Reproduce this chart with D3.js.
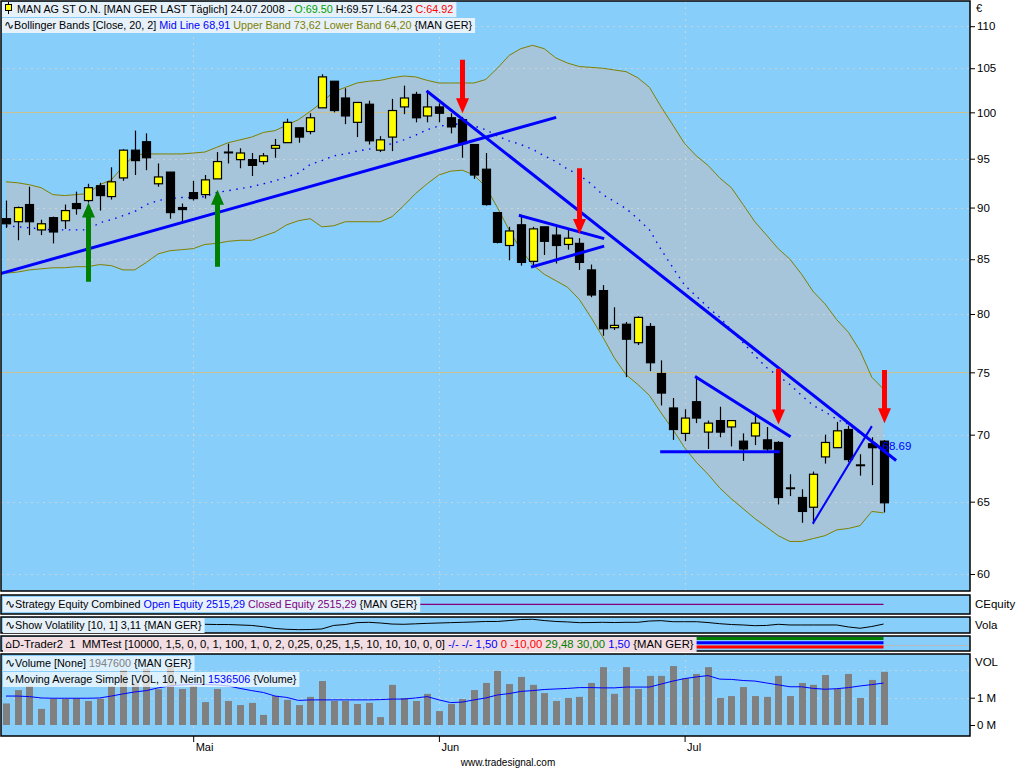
<!DOCTYPE html>
<html>
<head>
<meta charset="utf-8">
<script src="https://cdn.jsdelivr.net/npm/d3@7"></script>
<style>
  body { margin: 0; background: #ffffff; }
  svg { display: block; font-family: "Liberation Sans", Arial, sans-serif; }
</style>
</head>
<body>
<svg id="chart" width="1024" height="768"></svg>
<script>
// ---- MAN AG daily session data (Xetra), 09.04.2008 - 24.07.2008 ----
const sessions = [
  "2008-04-09","2008-04-10","2008-04-11","2008-04-14","2008-04-15","2008-04-16","2008-04-17","2008-04-18",
  "2008-04-21","2008-04-22","2008-04-23","2008-04-24","2008-04-25","2008-04-28","2008-04-29","2008-04-30",
  "2008-05-02","2008-05-05","2008-05-06","2008-05-07","2008-05-08","2008-05-09","2008-05-12","2008-05-13",
  "2008-05-14","2008-05-15","2008-05-16","2008-05-19","2008-05-20","2008-05-21","2008-05-22","2008-05-23",
  "2008-05-26","2008-05-27","2008-05-28","2008-05-29","2008-05-30",
  "2008-06-02","2008-06-03","2008-06-04","2008-06-05","2008-06-06","2008-06-09","2008-06-10","2008-06-11",
  "2008-06-12","2008-06-13","2008-06-16","2008-06-17","2008-06-18","2008-06-19","2008-06-20","2008-06-23",
  "2008-06-24","2008-06-25","2008-06-26","2008-06-27","2008-06-30",
  "2008-07-01","2008-07-02","2008-07-03","2008-07-04","2008-07-07","2008-07-08","2008-07-09","2008-07-10",
  "2008-07-11","2008-07-14","2008-07-15","2008-07-16","2008-07-17","2008-07-18","2008-07-21","2008-07-22",
  "2008-07-23","2008-07-24"
];

const openPx = [88.9,88.6,90.3,87.8,89.0,88.7,90.4,90.7,92.2,91.1,93.0,95.9,96.8,92.4,93.6,90.0,
  91.5,91.3,92.9,95.7,94.9,94.9,94.7,96.1,96.7,98.3,97.9,100.5,103.5,101.6,98.9,100.9,95.9,97.3,100.6,102.0,99.6,
  100.6,99.4,99.2,96.5,93.9,89.5,86.3,88.3,84.8,88.1,87.3,86.4,86.5,84.0,82.1,78.8,79.1,77.5,78.9,74.9,72.1,
  70.1,72.6,70.2,71.1,70.6,69.5,69.9,69.6,69.4,66.0,65.3,64.6,68.3,69.0,70.4,67.7,69.3,69.50];
const highPx = [90.7,90.1,92.1,88.8,89.1,90.3,91.6,92.4,92.5,94.1,96.0,98.0,97.7,94.5,93.6,90.4,
  92.7,93.3,95.7,96.6,96.1,95.6,95.6,97.1,99.3,98.3,99.9,104.3,103.5,102.7,101.1,101.3,97.4,101.5,103.0,102.3,102.4,
  101.0,99.9,99.5,96.5,95.6,89.5,88.1,89.3,88.1,88.1,88.1,87.9,87.0,84.5,82.6,80.6,79.3,79.8,79.2,76.0,72.9,
  72.0,74.6,71.1,72.2,71.1,70.1,71.7,70.6,69.5,67.0,65.9,67.2,70.0,71.0,70.7,68.5,69.8,69.57];
const lowPx = [88.0,86.8,87.3,87.3,86.5,87.9,89.3,90.5,89.7,90.8,92.7,93.3,93.8,92.1,88.9,88.5,
  90.7,90.9,92.9,94.5,94.0,93.2,94.4,95.1,96.7,96.7,97.6,100.5,100.0,98.7,97.3,96.5,95.7,95.8,99.8,98.9,98.9,
  98.9,97.7,95.1,92.9,90.2,86.5,84.9,84.4,84.4,85.4,84.6,85.9,84.0,81.5,78.1,78.6,74.6,77.3,75.1,72.3,69.6,
  69.5,70.9,68.9,69.8,69.1,68.0,69.2,68.7,64.8,65.4,63.5,63.4,67.8,69.0,67.9,66.9,66.2,64.23];
const closePx = [88.4,90.0,88.6,88.4,87.6,89.7,89.9,92.0,91.2,92.6,95.9,94.8,95.1,93.1,89.5,89.8,
  90.9,92.8,94.7,95.7,95.6,94.3,95.3,96.4,98.9,97.3,99.4,104.0,100.2,99.6,101.1,96.9,97.0,100.2,101.6,99.4,100.6,
  99.9,98.4,96.6,93.3,90.3,86.6,87.7,84.7,87.9,86.7,86.3,87.0,84.7,81.7,78.7,79.0,77.8,79.7,75.8,73.3,70.4,
  71.3,71.3,70.9,70.2,71.1,68.9,70.9,68.9,65.3,66.0,64.3,67.0,69.4,70.3,68.1,67.7,69.0,64.92];

// Bollinger Bands [Close, 20, 2]
const bbUpper = [92.6,92.5,92.3,92.0,91.3,91.2,91.3,91.4,92.3,92.8,94.2,95.4,95.5,95.5,95.5,95.5,
  95.6,95.7,96.2,96.7,97.0,97.3,97.8,98.0,98.6,99.2,100.1,101.1,102.3,102.8,103.3,103.5,103.6,103.9,104.1,104.0,103.6,
  103.3,103.3,103.3,103.3,103.7,105.0,106.5,107.3,107.7,107.3,106.2,105.6,105.2,105.1,105.0,104.8,104.6,103.9,102.8,100.6,98.6,
  96.6,95.3,94.3,93.0,92.0,90.3,88.6,87.3,86.0,85.0,83.6,82.0,80.9,79.5,78.4,76.8,74.6,73.62];
const bbMid = [88.2,88.1,88.0,87.9,87.8,87.8,87.8,87.8,88.5,88.8,89.2,89.6,90.3,90.7,90.9,91.0,
  91.0,91.1,91.5,91.7,91.9,92.1,92.4,92.7,93.1,93.5,94.4,94.8,95.3,95.5,95.8,96.0,96.3,96.6,97.0,97.5,98.1,
  98.5,98.6,98.8,98.5,98.1,97.4,96.9,96.5,96.0,95.3,94.7,93.9,93.3,92.4,91.3,90.6,89.9,88.9,87.8,85.9,84.2,
  82.6,81.6,80.6,79.7,78.6,77.5,76.4,75.4,74.7,74.0,73.1,72.3,71.8,71.2,70.8,70.1,69.5,68.91];
const bbLower = [83.7,83.8,84.0,84.1,84.2,84.2,84.3,84.3,84.5,84.4,84.0,84.0,84.7,85.5,85.8,85.9,
  86.0,86.4,86.5,86.7,86.8,86.8,87.2,87.6,88.3,88.7,88.9,88.1,88.2,88.6,88.6,88.6,88.6,89.1,90.2,91.4,92.4,
  93.3,93.7,93.8,93.3,92.1,90.0,87.8,85.9,84.5,83.6,83.0,82.4,81.3,79.7,78.0,76.2,74.8,74.0,73.1,71.7,70.4,
  69.0,67.9,67.0,66.0,65.2,64.5,63.8,63.2,62.6,62.2,62.2,62.4,62.6,63.0,63.1,63.3,64.3,64.20];

// Volume in millions of shares and its 10-day simple moving average
const volumeM = [0.79,1.28,1.43,0.59,0.96,0.96,0.98,0.88,0.96,1.43,2.00,1.55,2.07,1.31,2.16,1.32,
  1.43,0.84,1.32,0.88,0.73,0.81,0.37,1.06,0.92,0.73,1.03,1.61,0.88,0.88,0.77,0.81,0.29,1.47,0.99,0.88,1.14,
  0.51,0.77,0.95,1.28,1.54,1.98,1.50,1.76,1.47,1.17,0.88,0.99,1.03,1.54,2.12,1.14,2.12,1.32,1.80,1.80,2.16,
  1.72,1.87,2.12,0.99,1.06,1.39,1.06,1.03,1.80,1.06,1.54,1.47,1.83,1.32,1.87,0.99,1.65,1.9476];
const volumeMA10 = [1.06,1.06,1.04,0.99,0.98,0.98,0.98,0.98,0.99,1.06,1.14,1.21,1.26,1.36,1.43,1.47,
  1.49,1.49,1.47,1.43,1.34,1.26,1.19,1.06,1.01,0.90,0.92,0.92,0.92,0.92,0.92,0.92,0.93,0.95,0.95,0.99,1.04,
  0.92,0.82,0.84,0.92,0.99,1.10,1.15,1.23,1.26,1.30,1.32,1.34,1.37,1.37,1.36,1.36,1.39,1.39,1.39,1.50,1.61,
  1.70,1.76,1.81,1.68,1.67,1.63,1.61,1.54,1.47,1.40,1.40,1.34,1.31,1.33,1.37,1.43,1.48,1.5365];

// Show Volatility [10, 1], starting with the session of 05.05.2008
const volaFirst = 17;
const volatility = [3.09,3.07,3.07,3.03,2.99,2.88,2.73,2.66,2.63,2.64,2.69,2.99,3.07,3.23,3.26,3.20,3.11,3.09,3.13,3.17,
  3.20,3.23,3.26,3.29,3.33,3.33,3.41,3.50,3.52,3.41,3.33,3.29,3.23,3.24,3.26,3.24,3.26,3.26,3.37,3.40,3.31,
  3.31,3.31,3.24,3.14,3.07,3.03,2.97,2.99,3.09,3.03,3.03,3.03,3.03,3.03,2.86,2.75,2.90,3.11];

const closedEquity = 2515.29;
const dtraderLevels = [30.00, 1.50, -10.00];
const dtraderColors = ["#008000", "#0000ff", "#ff0000"];

const priceTicks = [60,65,70,75,80,85,90,95,100,105,110];
const priceLevelLines = [100, 75];
const volumeTicks = [0, 1];
const monthNames = ["Jan","Feb","Mär","Apr","Mai","Jun","Jul","Aug","Sep","Okt","Nov","Dez"];

// Drawn trend lines: [session index, price]
const trendLines = [
  {a:[-0.34, 83.7], b:[46.9, 99.4], w:3},
  {a:[36.04, 102.3], b:[75.98, 68.1], w:3},
  {a:[43.96, 89.2], b:[51.0, 87.0], w:3},
  {a:[45.0, 84.3], b:[51.0, 86.2], w:3},
  {a:[59.0, 74.6], b:[66.95, 69.9], w:3},
  {a:[56.04, 68.7], b:[66.0, 68.7], w:3},
  {a:[69.0, 63.5], b:[73.96, 70.6], w:2}
];
// Signal arrows: session index, price at tail, price at tip
const buyArrows = [{i:7, tail:82.9, tip:90.5}, {i:18, tail:84.3, tip:91.8}];
const sellArrows = [{i:39, tail:106.0, tip:99.9}, {i:49, tail:94.0, tip:87.4},
                    {i:66, tail:75.3, tip:70.8}, {i:75, tail:75.2, tip:70.9}];
const trendValueLabel = {i:75, value:68.69};

// ---------------- layout ----------------
const svg = d3.select("#chart");
const plotLeft = 1, plotRight = 970;
const panels = {
  main:   {top: 1,   bottom: 591},
  equity: {top: 595, bottom: 614},
  vola:   {top: 617, bottom: 633},
  dtrade: {top: 636, bottom: 651},
  volume: {top: 654, bottom: 736}
};
const SKY = "#87cefa";
const CAP = 10.8;
const n = sessions.length;
const x = d3.scaleLinear().domain([0, n - 1]).range([6, 883.5]);
const y = d3.scaleLog().domain([60, 110]).range([574, 26.2]);
const yVol = d3.scaleLinear().domain([0, 2]).range([725, 670.4]);
const yVola = d3.scaleLinear().domain([2.6, 3.8]).range([630, 616]);
const yEq = d3.scaleLinear().domain([2500, 2530]).range([614, 595]);
const yDt = d3.scalePoint().domain(dtraderLevels).range([638.5, 647]);

const parse = d3.timeParse("%Y-%m-%d");
const monthStarts = sessions.map((s, i) => i).filter(i => i > 0 && parse(sessions[i]).getMonth() !== parse(sessions[i-1]).getMonth());

const defs = svg.append("defs");
Object.entries(panels).forEach(([k, p]) => {
  defs.append("clipPath").attr("id", "clip-" + k).append("rect")
    .attr("x", plotLeft).attr("y", p.top).attr("width", plotRight - plotLeft).attr("height", p.bottom - p.top);
  svg.append("rect").attr("x", plotLeft).attr("y", p.top)
    .attr("width", plotRight - plotLeft).attr("height", p.bottom - p.top).attr("fill", SKY);
});

// ---------------- main price panel ----------------
const gMain = svg.append("g").attr("clip-path", "url(#clip-main)");

gMain.append("path")
  .datum(d3.range(n))
  .attr("fill", "#a6c5da")
  .attr("d", d3.area().x(i => x(i)).y0(i => y(bbLower[i])).y1(i => y(bbUpper[i])));

// grid
gMain.selectAll(".hgrid").data(priceTicks.filter(t => !priceLevelLines.includes(t))).join("line")
  .attr("x1", plotLeft).attr("x2", plotRight)
  .attr("y1", d => Math.round(y(d)) + 0.5).attr("y2", d => Math.round(y(d)) + 0.5)
  .attr("stroke", "#c9d3da").attr("stroke-dasharray", "2,4");
gMain.selectAll(".vgrid").data(monthStarts).join("line")
  .attr("x1", i => Math.round(x(i)) + 0.5).attr("x2", i => Math.round(x(i)) + 0.5)
  .attr("y1", panels.main.top).attr("y2", panels.main.bottom)
  .attr("stroke", "#c9d3da").attr("stroke-dasharray", "2,4");
gMain.selectAll(".level").data(priceLevelLines).join("line")
  .attr("x1", plotLeft).attr("x2", plotRight)
  .attr("y1", d => Math.round(y(d)) + 0.5).attr("y2", d => Math.round(y(d)) + 0.5)
  .attr("stroke", "#c8c08e").attr("stroke-width", 1);

// band lines
const bandLine = arr => d3.line().x(i => x(i)).y(i => y(arr[i]))(d3.range(n));
gMain.append("path").attr("d", bandLine(bbUpper)).attr("fill", "none").attr("stroke", "#808000");
gMain.append("path").attr("d", bandLine(bbLower)).attr("fill", "none").attr("stroke", "#808000");
gMain.append("path").attr("d", bandLine(bbMid)).attr("fill", "none").attr("stroke", "#0000ff")
  .attr("stroke-width", 1.4).attr("stroke-dasharray", "1.5,5.5");

// candles
const bodyW = 8;
const candles = gMain.selectAll(".candle").data(d3.range(n)).join("g");
candles.append("line")
  .attr("x1", i => Math.round(x(i)) + 0.5).attr("x2", i => Math.round(x(i)) + 0.5)
  .attr("y1", i => y(highPx[i])).attr("y2", i => y(lowPx[i]))
  .attr("stroke", "#000").attr("stroke-width", 1.2);
candles.append("rect")
  .attr("x", i => Math.round(x(i)) - bodyW / 2 + 0.5)
  .attr("y", i => y(Math.max(openPx[i], closePx[i])))
  .attr("width", bodyW)
  .attr("height", i => Math.max(0.8, Math.abs(y(openPx[i]) - y(closePx[i]))))
  .attr("fill", i => closePx[i] >= openPx[i] ? "#ffff00" : "#000000")
  .attr("stroke", "#000").attr("stroke-width", 1.2);

// trend lines
gMain.selectAll(".trend").data(trendLines).join("line")
  .attr("x1", d => x(d.a[0])).attr("y1", d => y(d.a[1]))
  .attr("x2", d => x(d.b[0])).attr("y2", d => y(d.b[1]))
  .attr("stroke", "#0000ff").attr("stroke-width", d => d.w).attr("stroke-linecap", "square");

// arrows
function arrowPath(cx, yTail, yTip) {
  const dir = yTip > yTail ? 1 : -1;
  const headLen = 15, headHalf = 6.5, shaftHalf = 2.5;
  const yBase = yTip - dir * headLen;
  return `M${cx - shaftHalf},${yTail} L${cx + shaftHalf},${yTail} L${cx + shaftHalf},${yBase}` +
         ` L${cx + headHalf},${yBase} L${cx},${yTip} L${cx - headHalf},${yBase} L${cx - shaftHalf},${yBase} Z`;
}
gMain.selectAll(".buy").data(buyArrows).join("path")
  .attr("d", d => arrowPath(Math.round(x(d.i)) + 0.5, y(d.tail), y(d.tip))).attr("fill", "#008000");
gMain.selectAll(".sell").data(sellArrows).join("path")
  .attr("d", d => arrowPath(Math.round(x(d.i)) + 0.5, y(d.tail), y(d.tip))).attr("fill", "#ff0000");

gMain.append("text")
  .attr("x", x(trendValueLabel.i) - 1).attr("y", y(trendValueLabel.value) - 2)
  .attr("fill", "#0000ff").attr("font-size", 11.5)
  .text(d3.format(".2f")(trendValueLabel.value));

// ---------------- price axis ----------------
const axisStyle = g => {
  g.select(".domain").remove();
  g.selectAll(".tick line").attr("stroke", "#000");
  g.selectAll(".tick text").attr("fill", "#000").attr("font-size", 11.5)
    .attr("font-family", "Liberation Sans, Arial, sans-serif");
};
svg.append("g").attr("transform", `translate(${plotRight},0)`)
  .call(d3.axisRight(y).tickValues(priceTicks).tickSize(5).tickPadding(2).tickFormat(d3.format("d")))
  .call(axisStyle);
svg.append("text").attr("x", 976).attr("y", 12).attr("font-size", 11).text("€");

// ---------------- strategy equity ----------------
const gEq = svg.append("g").attr("clip-path", "url(#clip-equity)");
gEq.append("line").attr("x1", x(0)).attr("x2", x(n - 1))
  .attr("y1", yEq(closedEquity)).attr("y2", yEq(closedEquity))
  .attr("stroke", "#800080").attr("stroke-width", 1.2);

// ---------------- volatility ----------------
const gVola = svg.append("g").attr("clip-path", "url(#clip-vola)");
gVola.append("path")
  .attr("d", d3.line().x((v, k) => x(volaFirst + k)).y(v => yVola(v))(volatility))
  .attr("fill", "none").attr("stroke", "#000").attr("stroke-width", 1);

// ---------------- D-Trader ----------------
const gDt = svg.append("g").attr("clip-path", "url(#clip-dtrade)");
gDt.append("line").attr("x1", plotLeft).attr("x2", plotRight).attr("y1", 645.5).attr("y2", 645.5)
  .attr("stroke", "#b8b8c0").attr("stroke-width", 1);
gDt.selectAll(".dt").data(dtraderLevels).join("line")
  .attr("x1", x(0)).attr("x2", x(n - 1))
  .attr("y1", d => yDt(d)).attr("y2", d => yDt(d))
  .attr("stroke", (d, k) => dtraderColors[k]).attr("stroke-width", 3);

// ---------------- volume ----------------
const gVol = svg.append("g").attr("clip-path", "url(#clip-volume)");
gVol.selectAll(".vg").data([1, 2]).join("line")
  .attr("x1", plotLeft).attr("x2", plotRight)
  .attr("y1", d => Math.round(yVol(d)) + 0.5).attr("y2", d => Math.round(yVol(d)) + 0.5)
  .attr("stroke", "#c9d3da").attr("stroke-dasharray", "2,4");
gVol.selectAll(".vgrid").data(monthStarts).join("line")
  .attr("x1", i => Math.round(x(i)) + 0.5).attr("x2", i => Math.round(x(i)) + 0.5)
  .attr("y1", panels.volume.top).attr("y2", panels.volume.bottom)
  .attr("stroke", "#c9d3da").attr("stroke-dasharray", "2,4");
gVol.selectAll(".vbar").data(volumeM).join("rect")
  .attr("x", (v, i) => Math.round(x(i)) - 3)
  .attr("y", v => yVol(v)).attr("width", 7).attr("height", v => yVol(0) - yVol(v))
  .attr("fill", "#808080");
gVol.append("path")
  .attr("d", d3.line().x((v, i) => x(i)).y(v => yVol(v))(volumeMA10))
  .attr("fill", "none").attr("stroke", "#0000ff").attr("stroke-width", 1);

svg.append("g").attr("transform", `translate(${plotRight},0)`)
  .call(d3.axisRight(yVol).tickValues(volumeTicks).tickSize(5).tickPadding(2).tickFormat(d => d + " M"))
  .call(axisStyle);

// right-hand panel captions
[["CEquity", 608], ["Vola", 629], ["VOL", 666]].forEach(([t, yy]) =>
  svg.append("text").attr("x", 975).attr("y", yy).attr("font-size", 11.5).text(t));

// panel borders
Object.values(panels).forEach(p =>
  svg.append("rect").attr("x", plotLeft).attr("y", p.top)
    .attr("width", plotRight - plotLeft).attr("height", p.bottom - p.top)
    .attr("fill", "none").attr("stroke", "#000").attr("stroke-width", 1.5));

// ---------------- time axis ----------------
const gx = svg.append("g").attr("transform", `translate(0,${panels.volume.bottom})`)
  .call(d3.axisBottom(x).tickValues(monthStarts).tickSize(6)
    .tickFormat(i => monthNames[parse(sessions[i]).getMonth()]));
gx.select(".domain").remove();
gx.selectAll(".tick line").attr("stroke", "#000");
gx.selectAll(".tick text").attr("text-anchor", "start").attr("x", 2).attr("dy", "0.55em")
  .attr("font-size", 11).attr("fill", "#000").attr("font-family", "Liberation Sans Narrow, Liberation Sans, Arial");
svg.append("text").attr("x", 508).attr("y", 766).attr("text-anchor", "middle")
  .attr("font-size", 10).attr("font-family", "Liberation Sans Narrow, Liberation Sans, Arial")
  .text("www.tradesignal.com");

// ---------------- caption boxes ----------------
// parts: [text, colour, optional font size]
function caption(parent, x0, baseline, parts, bg, opts = {}) {
  const pad = opts.pad || 2;
  const g = parent.append("g");
  const rect = g.append("rect");
  const t = g.append("text").attr("x", x0 + pad).attr("y", baseline)
    .attr("font-size", opts.size || CAP).style("white-space", "pre");
  parts.forEach(([s, c, fs]) => {
    const ts = t.append("tspan").attr("fill", c).text(s);
    if (fs) ts.attr("font-size", fs).attr("font-family", "DejaVu Sans");
  });
  const w = t.node().getComputedTextLength();
  rect.attr("x", x0).attr("y", baseline - 11).attr("width", w + pad + 3).attr("height", 15).attr("fill", bg);
  return g;
}
const WAVE = ["\u223F", "#000", 12];
const capBg = "#e6f1fa";
const volBg = "rgba(255,255,255,0.72)";

// header instrument line with candle glyph
const head = caption(svg, 2, 13, [
  ["MAN AG ST O.N. [MAN GER LAST Täglich] 24.07.2008 - ", "#000"],
  ["O:69.50", "#00a000"], [" H:69.57 L:64.23 ", "#000"], ["C:64.92", "#ff0000"]
], capBg, {pad: 15});
head.append("line").attr("x1", 8.5).attr("x2", 8.5).attr("y1", 2).attr("y2", 14).attr("stroke", "#000");
head.append("rect").attr("x", 5.5).attr("y", 4.5).attr("width", 6).attr("height", 6)
  .attr("fill", "#ffff00").attr("stroke", "#000");

caption(svg, 2, 29, [
  WAVE, ["Bollinger Bands [Close, 20, 2] ", "#000"], ["Mid Line 68,91", "#0000ff"],
  [" Upper Band 73,62 Lower Band 64,20", "#808000"], [" {MAN GER}", "#000"]
], capBg);

caption(svg, 3, 608, [
  WAVE, ["Strategy Equity Combined ", "#000"], ["Open Equity 2515,29", "#0000ff"],
  [" Closed Equity 2515,29", "#800080"], [" {MAN GER}", "#000"]
], capBg);

caption(svg, 3, 629, [WAVE, ["Show Volatility [10, 1] 3,11 {MAN GER}", "#000"]], capBg);

caption(svg, 3, 648, [
  ["\u2302", "#000", 11], ["D-Trader2  1  MMTest [10000, 1,5, 0, 0, 1, 100, 1, 0, 2, 0,25, 0,25, 1,5, 10, 10, 10, 0, 0] ", "#000"],
  ["-/- -/- 1,50", "#0000ff"], [" 0 -10,00", "#ff0000"], [" 29,48 30,00", "#008000"],
  [" 1,50", "#0000ff"], [" {MAN GER}", "#000"]
], "#f2dde2", {size: 11.3});

caption(svg, 3, 667, [WAVE, ["Volume [None] ", "#000"], ["1947600", "#808080"], [" {MAN GER}", "#000"]], volBg);
caption(svg, 3, 683, [
  WAVE, ["Moving Average Simple [VOL, 10, Nein] ", "#000"], ["1536506", "#0000ff"], [" {Volume}", "#000"]
], volBg);
</script>
</body>
</html>
